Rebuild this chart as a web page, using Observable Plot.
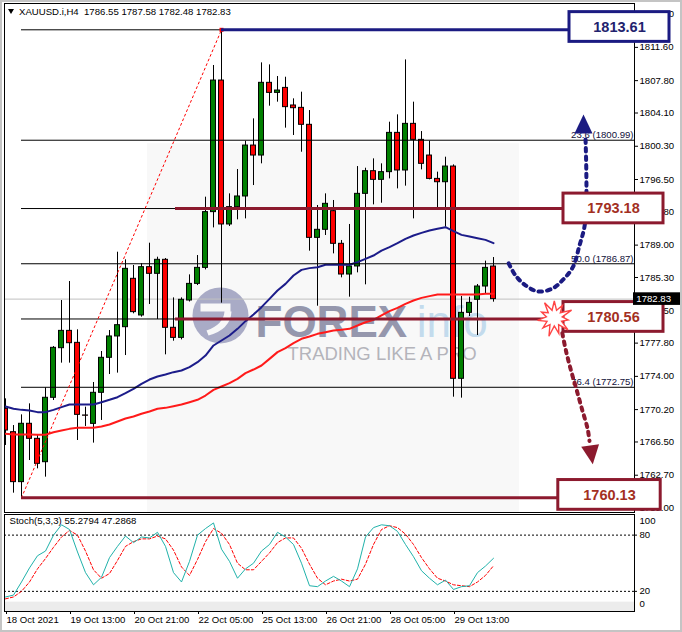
<!DOCTYPE html>
<html><head><meta charset="utf-8">
<script src="https://cdn.jsdelivr.net/npm/d3@7"></script>
<script src="https://cdn.jsdelivr.net/npm/@observablehq/plot@0.6"></script>
<style>
body{margin:0;background:#fff;}
#wrap{position:relative;width:682px;height:632px;overflow:hidden;background:#fff;font-family:"Liberation Sans",Arial,sans-serif;}
#main{position:absolute;left:0;top:0;}
#stoch{position:absolute;left:0;top:513px;}
#title{position:absolute;left:8px;top:6px;font-size:9.6px;color:#000;white-space:pre;}
#title .tri{display:inline-block;width:0;height:0;border-left:3.5px solid transparent;border-right:3.5px solid transparent;border-top:5px solid #000;margin-right:5px;vertical-align:1px;}
#edge{position:absolute;left:0;top:0;width:678px;height:628px;border:2px solid #c4c4c4;pointer-events:none;}
</style></head><body>
<div id="wrap"><div id="main"></div><div id="stoch"></div>
<div id="title"><span class="tri"></span>XAUUSD.i,H4  1786.55 1787.58 1782.48 1782.83</div>
<div id="edge"></div></div>
<script>
// ---------- data ----------
const open  = [1770.29,1767.62,1761.91,1768.58,1766.86,1764.19,1771.55,1777.22,1779.20,1777.83,1769.53,1768.57,1772.12,1776.12,1778.56,1779.62,1785.15,1780.96,1786.48,1785.72,1787.32,1779.55,1778.40,1782.67,1784.57,1786.40,1792.77,1807.81,1791.36,1793.34,1794.56,1800.38,1799.24,1807.55,1806.40,1806.97,1804.96,1804.69,1802.75,1789.83,1790.75,1792.88,1789.15,1785.64,1786.56,1794.86,1797.45,1796.46,1797.34,1801.83,1797.53,1802.86,1801.03,1799.24,1796.57,1796.19,1797.98,1773.72,1781.26,1782.75,1784.27,1786.55];
const high  = [1771.43,1768.38,1769.60,1770.86,1767.24,1772.69,1777.41,1782.67,1784.84,1779.32,1770.48,1773.30,1776.84,1779.24,1788.19,1787.32,1786.67,1786.87,1789.22,1787.62,1787.47,1782.97,1782.97,1785.60,1787.81,1794.48,1809.53,1813.61,1794.86,1797.64,1800.88,1803.43,1809.83,1809.60,1808.27,1808.19,1805.72,1806.48,1804.38,1793.53,1794.86,1794.10,1789.53,1791.36,1797.98,1797.79,1798.86,1798.29,1803.05,1803.89,1810.17,1805.34,1801.98,1800.88,1797.34,1799.05,1798.17,1783.13,1783.05,1784.50,1787.17,1787.58];
const low   = [1766.10,1760.65,1760.13,1764.38,1763.43,1762.48,1771.24,1775.51,1775.51,1766.67,1768.27,1766.37,1768.96,1774.21,1774.37,1776.38,1781.15,1780.77,1782.21,1780.50,1776.46,1778.02,1778.17,1782.50,1784.38,1786.17,1790.97,1782.37,1791.13,1791.89,1792.00,1795.81,1798.29,1804.88,1805.34,1802.37,1801.53,1799.62,1788.31,1782.02,1790.10,1788.00,1785.26,1783.05,1785.83,1784.46,1793.60,1793.79,1796.57,1795.43,1795.74,1792.00,1797.60,1796.46,1793.03,1791.05,1771.62,1771.51,1780.84,1778.67,1783.43,1782.48];
const close = [1767.81,1761.91,1768.58,1766.86,1764.00,1771.55,1777.26,1779.20,1777.79,1769.60,1769.50,1772.12,1776.12,1778.56,1779.85,1786.29,1781.34,1786.48,1785.72,1787.32,1779.55,1778.40,1782.75,1784.57,1786.40,1792.77,1807.81,1791.36,1793.34,1794.56,1800.38,1799.24,1807.55,1806.40,1806.67,1804.77,1804.65,1802.75,1789.83,1790.75,1793.72,1789.15,1785.64,1786.56,1794.86,1797.45,1796.46,1797.34,1801.83,1797.53,1802.86,1801.03,1798.29,1796.57,1796.19,1797.98,1773.72,1781.26,1782.40,1784.27,1786.40,1782.83];
const maBlue = [1770.56,1770.29,1770.17,1770.10,1769.91,1769.91,1770.17,1770.48,1770.78,1770.78,1770.78,1770.78,1771.05,1771.32,1771.62,1772.08,1772.57,1773.15,1773.64,1773.98,1774.21,1774.48,1774.67,1775.05,1775.62,1776.38,1777.53,1778.10,1778.67,1779.43,1780.31,1781.07,1781.91,1782.86,1783.81,1784.57,1785.53,1786.17,1786.37,1786.48,1786.75,1786.75,1786.75,1786.75,1787.05,1787.43,1787.81,1788.38,1788.77,1789.22,1789.72,1790.10,1790.40,1790.67,1790.86,1791.05,1790.59,1790.17,1789.98,1789.79,1789.60,1789.22];
const maRed  = [1767.43,1767.36,1767.36,1767.36,1767.32,1767.32,1767.62,1767.81,1768.00,1768.12,1768.12,1768.12,1768.27,1768.50,1768.84,1769.18,1769.41,1769.72,1769.98,1770.29,1770.40,1770.59,1770.78,1771.05,1771.32,1771.81,1772.46,1772.84,1773.22,1773.72,1774.37,1774.78,1775.24,1776.00,1776.77,1777.22,1777.79,1778.29,1778.56,1778.86,1779.05,1779.24,1779.32,1779.43,1779.81,1780.19,1780.46,1780.96,1781.45,1781.83,1782.29,1782.67,1782.97,1783.17,1783.36,1783.36,1783.36,1783.36,1783.36,1783.36,1783.43,1783.43];
const stochK = [14,16,30,45,58,63,80,91,86,62,40,27,35,56,68,79,72,78,77,83,68,40,30,52,80,87,93,65,52,34,44,50,63,70,83,78,70,50,26,25,31,36,31,25,44,78,88,91,90,84,70,57,42,34,27,32,22,25,26,40,47,55.28];
const stochD = [12,14,20,30,44,55,67,78,85,80,63,43,34,39,53,68,73,76,76,79,76,64,46,37,54,73,87,82,70,50,43,43,52,61,72,77,77,66,49,34,27,31,33,31,33,49,70,86,90,88,81,70,56,44,34,31,27,26,25,30,37,47.29];
const priceTicks = [1815.40,1811.60,1807.80,1804.10,1800.30,1796.50,1792.80,1789.00,1785.30,1781.50,1777.80,1774.00,1770.20,1766.50,1762.70,1759.00];
const timeTickBars = [0,8,16,24,32,40,48,56];
const timeLabels = ["18 Oct 2021","19 Oct 13:00","20 Oct 21:00","22 Oct 05:00","25 Oct 13:00","26 Oct 21:00","28 Oct 05:00","29 Oct 13:00"];
const fibRatios = [0,23.6,38.2,50.0,61.8,76.4,100];
const fibHigh = 1813.61, fibLow = 1760.13, fibHighBar = 27, fibLowBar = 2;
const fibLabelRatios = [23.6,50.0,76.4];
const levelValues = [1813.61,1793.18,1780.56,1760.13];
const levelStartBars = [27,21.25,21.25,2];
const boxBars = [[70.5,83],[69.75,82.25],[69.75,82.25],[69.1,81.9]];
const boxCenters = [1813.93,1793.19,1780.79,1760.45];
const lastPrice = 1782.83;
const upPath = [[62.9,1786.91],[63.75,1785.54],[65.0,1784.40],[66.6,1783.70],[68.4,1784.05],[69.6,1784.96],[70.9,1786.45],[71.75,1788.96],[72.4,1791.25],[72.6,1794.10],[72.6,1797.53],[72.5,1801.3]];
const upHead = [72.25,1802.55];
const downPath = [[69.6,1778.93],[70.1,1776.76],[70.75,1774.47],[71.4,1772.42],[72.1,1770.13],[72.75,1768.07],[73.0,1766.6]];
const downHead = [73.2,1765.3];
const starPos = [68.6,1780.67];
const wmText = ["FOREX","info","TRADING LIKE A PRO"];
const wmBar = [31.25,51.4,35.25];
const wmPrice = [1780.16,1780.16,1776.50];
const logoPos = [26.875,1780.96];
const stochTitle = "Stoch(5,3,3) 55.2794 47.2868";

// ---------- tables ----------
const candles = open.map((o,i)=>({i,o,h:high[i],l:low[i],c:close[i]}));
const idx = d3.range(open.length);
const fibs = fibRatios.map(r=>({r, v: fibHigh - (fibHigh-fibLow)*r/100}));
const FONT = '"Liberation Sans",Arial,sans-serif';
const NAVY = "#1b1b82", MAROON = "#8c1a2e", BOXTXT = "#a3301f";
const levelColors = [NAVY, MAROON, MAROON, MAROON];
const levels = levelValues.map((v,k)=>({v, x1:levelStartBars[k], x2:boxBars[k][0], col:levelColors[k],
  bx1:boxBars[k][0], bx2:boxBars[k][1], cy:boxCenters[k], txt: levelValues[k].toFixed(2), tcol: k===0?"#22226e":BOXTXT}));

const XDOM = [-0.125, 78.625];

const arrowSym = {draw(ctx){ctx.moveTo(0,-12);ctx.lineTo(9,7);ctx.lineTo(-9,7);ctx.closePath();}};
const starSym = {draw(ctx){
  const outer=[17,15,19,14,18,16,19,15,17,14,18], n=outer.length;
  for(let k=0;k<n;k++){
    const a1 = (k/n)*2*Math.PI - Math.PI/2, a2 = ((k+0.5)/n)*2*Math.PI - Math.PI/2;
    const p1=[outer[k]*Math.cos(a1), outer[k]*Math.sin(a1)], p2=[8*Math.cos(a2), 8*Math.sin(a2)];
    if(k===0) ctx.moveTo(p1[0],p1[1]); else ctx.lineTo(p1[0],p1[1]);
    ctx.lineTo(p2[0],p2[1]);
  }
  ctx.closePath();
}};
const sqSym = {draw(ctx){ctx.rect(-2,-2,4,4);}};
const logoCut = {draw(ctx){
  ctx.moveTo(-20,-12); ctx.lineTo(10,-12); ctx.lineTo(10,-4); ctx.lineTo(-20,-4); ctx.closePath();
  ctx.moveTo(4,-4); ctx.lineTo(11,-4); ctx.quadraticCurveTo(10,14,-12,20); ctx.lineTo(-14,15); ctx.quadraticCurveTo(3,9,4,-4); ctx.closePath();
}};

const main = Plot.plot({
  width:682, height:513, marginLeft:4, marginRight:48, marginTop:3, marginBottom:1,
  style:{background:"transparent", fontFamily:FONT, fontSize:"9.6px", color:"#000"},
  x:{domain:XDOM, axis:null}, y:{domain:[1758.44,1816.616], axis:null},
  marks:[
    Plot.rect([0],{x1:17.75, x2:64.25, y1:1758.44, y2:1800.6, fill:"#f8f8f8"}),
    // watermark
    Plot.dot([logoPos],{x:d=>d[0], y:d=>d[1], r:28, fill:"#a9abc6", stroke:"none"}),
    Plot.dot([logoPos],{x:d=>d[0], y:d=>d[1], symbol:logoCut, fill:"#f8f8f8", stroke:"none", r:5}),
    Plot.text([0],{x:wmBar[0], y:wmPrice[0], text:()=>wmText[0], textAnchor:"start", fontSize:44, fontWeight:"bold", fill:"#9597ad"}),
    Plot.text([0],{x:wmBar[1], y:wmPrice[1], text:()=>wmText[1], textAnchor:"start", fontSize:44, fill:"#c3dbed"}),
    Plot.text([0],{x:wmBar[2], y:wmPrice[2], text:()=>wmText[2], textAnchor:"start", fontSize:18.5, fill:"#b4b4bb"}),
    // current price line
    Plot.ruleY([lastPrice],{stroke:"#c0c0c0"}),
    // candles
    Plot.ruleX(candles,{x:"i", y1:"l", y2:"h", stroke:"#000", clip:true}),
    Plot.rect(candles,{x1:d=>d.i-0.31, x2:d=>d.i+0.31, y1:"o", y2:"c", fill:d=>d.c>=d.o?"#008000":"#ff0000", stroke:"#000", strokeWidth:1, clip:true}),
    // moving averages
    Plot.line(idx,{x:d=>d, y:d=>maBlue[d], stroke:"#1c1c8a", strokeWidth:2, clip:true}),
    Plot.line(idx,{x:d=>d, y:d=>maRed[d], stroke:"#ff1a1a", strokeWidth:2, clip:true}),
    // fibonacci
    Plot.ruleY(fibs,{y:"v", x1:fibLowBar, x2:XDOM[1], stroke:"#000", strokeWidth:1}),
    Plot.line([[fibLowBar,fibLow],[fibHighBar,fibHigh]],{stroke:"#ff0000", strokeDasharray:"2,3", strokeWidth:1}),
    Plot.dot([[fibHighBar,fibHigh]],{x:d=>d[0], y:d=>d[1], symbol:sqSym, fill:"#ff0000", stroke:"none"}),
    Plot.text(fibs.filter(f=>fibLabelRatios.includes(f.r)),{x:XDOM[1], y:"v", text:d=>`${d.r.toFixed(1)} (${d.v.toFixed(2)})`, textAnchor:"end", lineAnchor:"bottom", dy:-2, dx:-1, fill:"#10103a", fontSize:9.6}),
    // thick level lines
    Plot.ruleY(levels,{y:"v", x1:"x1", x2:"x2", stroke:"col", strokeWidth:3}),
    // axis
    Plot.axisY({anchor:"right", ticks:priceTicks, tickFormat:d=>d.toFixed(2), tickSize:3, tickPadding:2, fontSize:9.6}),
    Plot.frame({stroke:"#000"}),
    // arrows
    Plot.line(upPath,{curve:"catmull-rom", stroke:NAVY, strokeWidth:4, strokeDasharray:"3.5,5"}),
    Plot.dot([upHead],{x:d=>d[0], y:d=>d[1], symbol:arrowSym, fill:NAVY, stroke:"none", r:5}),
    Plot.line(downPath,{curve:"catmull-rom", stroke:MAROON, strokeWidth:4, strokeDasharray:"3.5,5"}),
    Plot.dot([downHead],{x:d=>d[0], y:d=>d[1], symbol:arrowSym, fill:MAROON, stroke:"none", r:5, rotate:172}),
    // boxes
    Plot.rect(levels,{x1:"bx1", x2:"bx2", y1:d=>d.cy-1.7, y2:d=>d.cy+1.7, fill:"#fff", stroke:"col", strokeWidth:3}),
    Plot.text(levels,{x:d=>(d.bx1+d.bx2)/2, y:"cy", text:"txt", fill:"tcol", fontSize:14.5, fontWeight:"bold"}),
    Plot.dot([starPos],{x:d=>d[0], y:d=>d[1], symbol:starSym, fill:"#fff", stroke:"#ff4444", strokeWidth:1.4, r:5}),
    // last price label
    Plot.rect([lastPrice],{x1:78.5, x2:84.6, y1:d=>d-0.72, y2:d=>d+0.72, fill:"#000"}),
    Plot.text([lastPrice],{x:78.85, y:d=>d, text:d=>d.toFixed(2), textAnchor:"start", fill:"#fff", fontSize:9.6})
  ]
});
document.getElementById("main").appendChild(main);

const labelMap = new Map(timeTickBars.map((b,k)=>[b,timeLabels[k]]));
const stoch = Plot.plot({
  width:682, height:119, marginLeft:4, marginRight:48, marginTop:1, marginBottom:21,
  style:{background:"transparent", fontFamily:FONT, fontSize:"9.6px", color:"#000"},
  x:{domain:XDOM, axis:null}, y:{domain:[-1.5,102], axis:null},
  marks:[
    Plot.rect([0],{x1:XDOM[0], x2:XDOM[1], y1:-1.5, y2:8.5, fill:"#ececec"}),
    Plot.ruleY([80,20],{stroke:"#000", strokeDasharray:"2,2"}),
    Plot.line(idx,{x:d=>d, y:d=>stochD[d], stroke:"#ff0000", strokeDasharray:"3,2", strokeWidth:1}),
    Plot.line(idx,{x:d=>d, y:d=>stochK[d], stroke:"#20b2aa", strokeWidth:1}),
    Plot.frame({stroke:"#000"}),
    Plot.text([stochTitle],{frameAnchor:"top-left", dx:5, dy:3, text:d=>d, fontSize:9.6, lineAnchor:"top"}),
    Plot.axisY({anchor:"right", ticks:[80,20], tickSize:2, tickPadding:3, fontSize:9.6}),
    Plot.axisY({anchor:"right", ticks:[100], tickSize:0, tickPadding:5, dy:5, fontSize:9.6}),
    Plot.axisY({anchor:"right", ticks:[0], tickSize:0, tickPadding:5, dy:-6, fontSize:9.6}),
    Plot.axisX({anchor:"bottom", ticks:timeTickBars, tickFormat:d=>labelMap.get(d), textAnchor:"start", tickSize:3, tickPadding:2, dx:1, fontSize:9.6})
  ]
});
document.getElementById("stoch").appendChild(stoch);
</script>
</body></html>
